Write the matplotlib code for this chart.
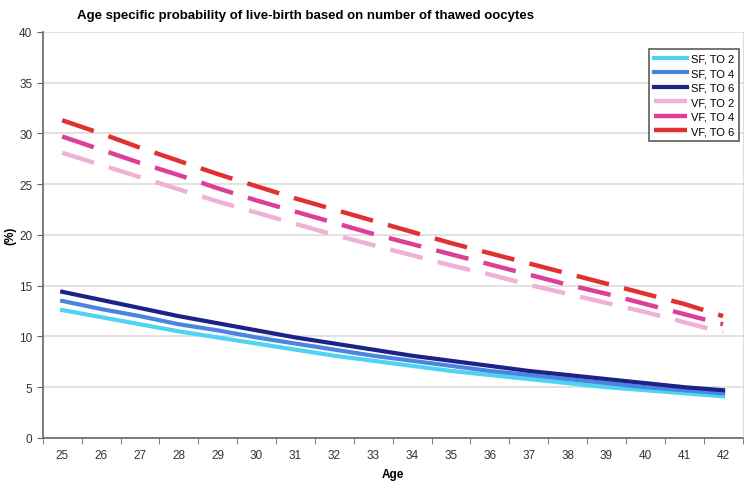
import matplotlib.pyplot as plt
import numpy as np

# Dados
idades = [25, 26, 27, 28, 29, 30, 31, 32, 33, 34, 35, 36, 37, 38, 39, 40, 41, 42]
sf_to2 = [12.6, 11.9, 11.2, 10.5, 9.9, 9.3, 8.7, 8.1, 7.6, 7.1, 6.6, 6.2, 5.8, 5.4, 5.0, 4.7, 4.4, 4.1]
sf_to4 = [13.5, 12.7, 12.0, 11.2, 10.6, 9.9, 9.3, 8.7, 8.1, 7.6, 7.1, 6.6, 6.2, 5.8, 5.4, 5.0, 4.7, 4.4]
sf_to6 = [14.4, 13.6, 12.8, 12.0, 11.3, 10.6, 9.9, 9.3, 8.7, 8.1, 7.6, 7.1, 6.6, 6.2, 5.8, 5.4, 5.0, 4.7]
vf_to2 = [28.1, 26.9, 25.7, 24.5, 23.3, 22.2, 21.1, 20.0, 19.0, 18.0, 17.0, 16.1, 15.1, 14.2, 13.3, 12.4, 11.4, 10.4]
vf_to4 = [29.7, 28.4, 27.1, 25.9, 24.6, 23.4, 22.3, 21.2, 20.1, 19.1, 18.1, 17.1, 16.1, 15.1, 14.2, 13.2, 12.2, 11.2]
vf_to6 = [31.3, 30.0, 28.6, 27.3, 26.0, 24.8, 23.6, 22.5, 21.4, 20.3, 19.2, 18.2, 17.2, 16.2, 15.2, 14.2, 13.2, 12.0]

plt.rcParams['font.family'] = ['Liberation Sans', 'DejaVu Sans']

fig = plt.figure(figsize=(7.5, 4.85), dpi=100)
ax = fig.add_axes([0.057, 0.095, 0.933, 0.837])

x = np.arange(len(idades))

# Linhas sólidas (SF)
ax.plot(x, sf_to2, color="#4fd3f2", lw=3, label="SF, TO 2", zorder=3)
ax.plot(x, sf_to4, color="#4a86e0", lw=3, label="SF, TO 4", zorder=3)
ax.plot(x, sf_to6, color="#1c2288", lw=3, label="SF, TO 6", zorder=3)
# Linhas tracejadas (VF)
tracejado = (0, (7.5, 3.5))
ax.plot(x, vf_to2, color="#efb2d6", lw=3.2, ls=tracejado, label="VF, TO 2", zorder=3)
ax.plot(x, vf_to4, color="#de3f96", lw=3.2, ls=tracejado, label="VF, TO 4", zorder=3)
ax.plot(x, vf_to6, color="#e0302f", lw=3.2, ls=tracejado, label="VF, TO 6", zorder=3)

# Eixos
ax.set_xlim(-0.5, len(idades) - 0.5)
ax.set_ylim(0, 40)
ax.set_yticks(np.arange(0, 41, 5))
ax.set_xticks(x)
ax.set_xticklabels(idades)
ax.set_xticks(np.arange(-0.5, len(idades), 1), minor=True)
ax.tick_params(axis='x', which='major', length=0, pad=8, labelsize=8.5, labelcolor="#333333")
ax.tick_params(axis='x', which='minor', length=4, color="#666666")
ax.tick_params(axis='y', length=4, color="#666666", labelsize=8.5, labelcolor="#333333")
ax.grid(axis='y', color="#dddddd", lw=1.2, zorder=0)
for lado in ["left", "bottom"]:
    ax.spines[lado].set_color("#666666")
    ax.spines[lado].set_linewidth(1.2)
ax.spines["top"].set_visible(False)
ax.spines["right"].set_color("#dddddd")

ax.set_xlabel("Age", fontsize=8.5, fontweight="bold")
ax.xaxis.set_label_coords(0.5, -0.075)
ax.set_ylabel("(%)", fontsize=8.5, fontweight="bold")
ax.yaxis.set_label_coords(-0.037, 0.5)

fig.text(0.103, 0.967, "Age specific probability of live-birth based on number of thawed oocytes",
         fontsize=9.5, fontweight="bold", va="center")

leg = ax.legend(loc="upper right", bbox_to_anchor=(1.003, 0.972), fontsize=8, frameon=True,
                fancybox=False, edgecolor="#333333", handlelength=3.0, labelspacing=0.4,
                borderpad=0.45, handletextpad=0.3)
leg.get_frame().set_linewidth(1.2)

fig.savefig("out.png", dpi=100)
